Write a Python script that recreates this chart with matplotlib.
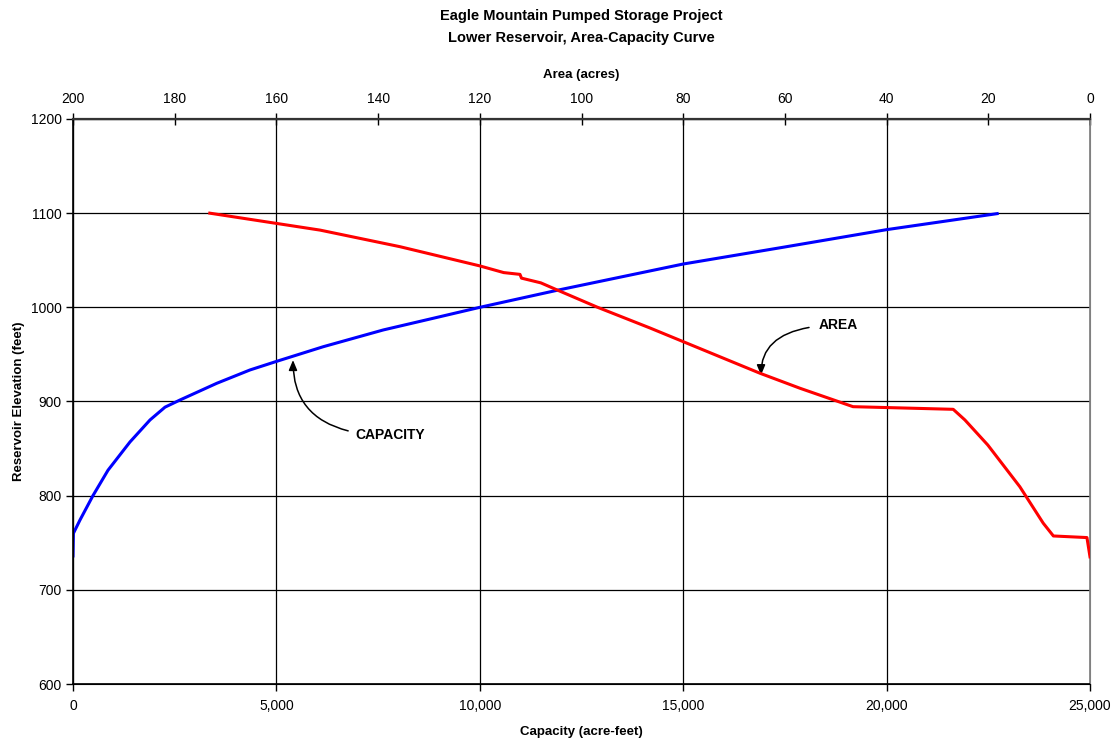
import matplotlib
matplotlib.use("Agg")
import matplotlib.pyplot as plt
from matplotlib.ticker import StrMethodFormatter, MultipleLocator

plt.rcParams['font.family'] = ['Liberation Sans', 'DejaVu Sans']

# capacity curve (acre-feet vs elevation)
cap_vals = [0, 10, 170, 490, 860, 1400, 1893, 2262, 2630, 3532, 4351, 5032,
            6153, 7629, 8857, 10000, 11890, 15000, 17485, 20000, 22718]
cap_elev = [736, 760, 774, 800, 827, 857, 880.4, 894, 901.6, 919.3, 933.5, 943,
            958.2, 976, 988.4, 1000, 1018, 1046, 1064, 1082.5, 1099.5]

# area curve (acres vs elevation)
area_vals = [0, 0.6, 7.2, 9.2, 13.8, 20.1, 24.6, 26.9, 36, 46.6, 57, 64.9,
             86.5, 97, 104.6, 108, 111.8, 112.1, 115.3, 120, 135.7,
             151.4, 173.1]
area_elev = [735, 755.5, 757.2, 770.8, 809.5, 853.8, 880.4, 891.7, 893, 894.5,
             914, 930, 978, 1000.4, 1018, 1026, 1031, 1035, 1036.9,
             1044, 1064.4, 1082, 1100]

fig = plt.figure(figsize=(11.14, 7.38), dpi=100)
ax = fig.add_axes([73 / 1114, 1 - 684 / 738, (1090 - 73) / 1114, (684 - 119) / 738])

ax.plot(cap_vals, cap_elev, color='#0000ff', lw=2.2, zorder=3)
ax.set_xlim(0, 25000)
ax.set_ylim(600, 1200)
ax.xaxis.set_major_locator(MultipleLocator(5000))
ax.yaxis.set_major_locator(MultipleLocator(100))
ax.xaxis.set_major_formatter(StrMethodFormatter('{x:,.0f}'))
ax.grid(True, color='black', lw=0.9)
ax.set_axisbelow(True)
ax.tick_params(labelsize=10, length=5, width=1, direction='out', pad=3)
ax.tick_params(axis='x', pad=5.5)
ax.set_xlabel('Capacity (acre-feet)', fontsize=9.5, fontweight='bold', labelpad=9.5)
ax.set_ylabel('Reservoir Elevation (feet)', fontsize=9.5, fontweight='bold', labelpad=4.5)
for s in ['left', 'bottom']:
    ax.spines[s].set_linewidth(1.2)
ax.spines['right'].set_color('#808080')
ax.spines['right'].set_linewidth(1.2)

ax2 = ax.twiny()
ax2.plot(area_vals, area_elev, color='#ff0000', lw=2.2, zorder=3)
ax2.set_xlim(200, 0)
ax2.xaxis.set_major_locator(MultipleLocator(20))
ax2.tick_params(labelsize=10, length=8, width=1, direction='inout', pad=5.5)
ax2.set_xlabel('Area (acres)', fontsize=9.5, fontweight='bold', labelpad=10)
ax2.spines['top'].set_linewidth(1.6)
ax2.spines['top'].set_color('#333333')
ax2.spines['right'].set_color('#808080')

# callouts
ax.annotate('CAPACITY', xy=(5408, 944), xytext=(6932, 864),
            fontsize=10, fontweight='bold', va='center', ha='left',
            arrowprops=dict(arrowstyle='-|>,head_length=0.6,head_width=0.25',
                            color='black', lw=1.1, shrinkA=3, shrinkB=0,
                            connectionstyle='angle3,angleA=0,angleB=90'))
ax.annotate('AREA', xy=(16913, 928), xytext=(18330, 981),
            fontsize=10, fontweight='bold', va='center', ha='left',
            arrowprops=dict(arrowstyle='-|>,head_length=0.6,head_width=0.25',
                            color='black', lw=1.1, shrinkA=5, shrinkB=0,
                            connectionstyle='angle3,angleA=0,angleB=90'))

fig.text(581.5 / 1114, 1 - 16 / 738, 'Eagle Mountain Pumped Storage Project',
         ha='center', va='center', fontsize=10.5, fontweight='bold')
fig.text(581.5 / 1114, 1 - 38 / 738, 'Lower Reservoir, Area-Capacity Curve',
         ha='center', va='center', fontsize=10.5, fontweight='bold')

fig.savefig('out.png', dpi=100)
